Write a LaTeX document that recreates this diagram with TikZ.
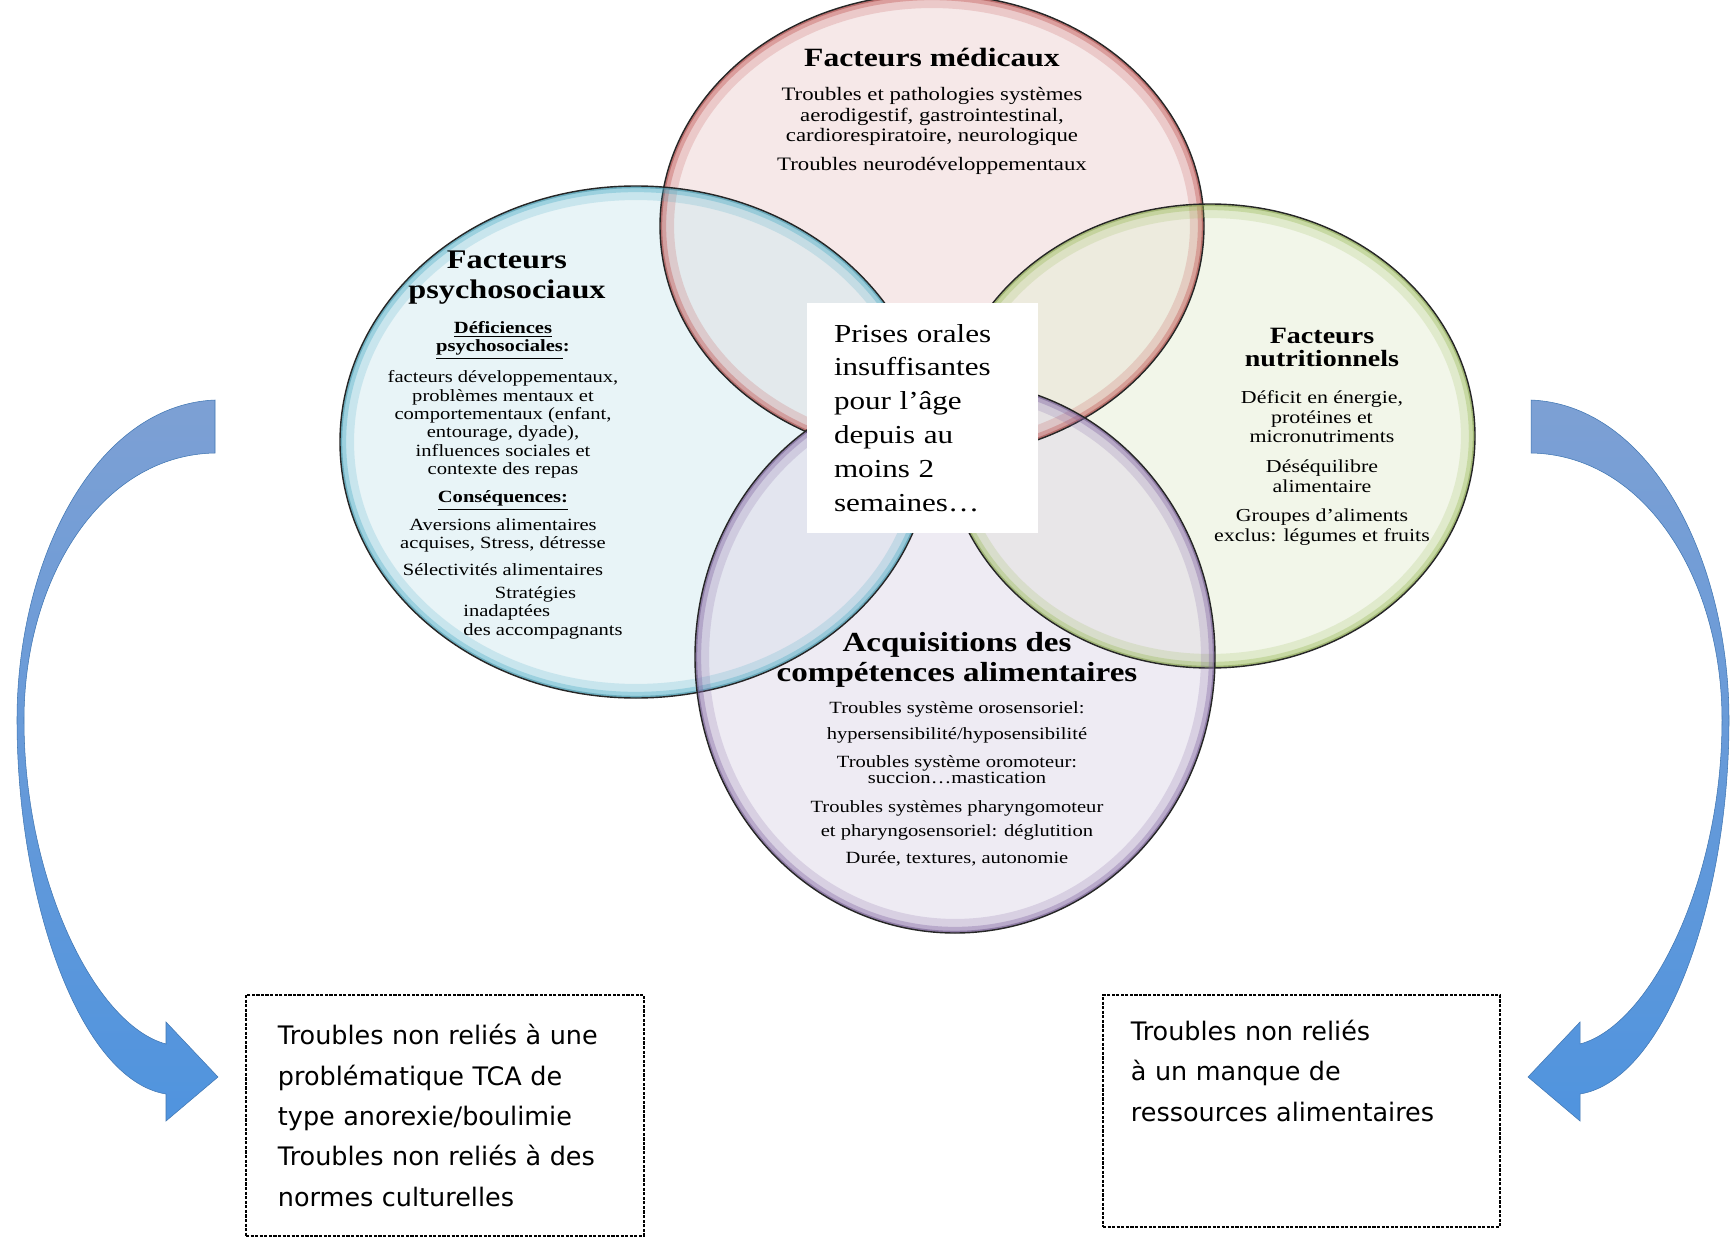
\documentclass[tikz,border=0pt]{standalone}
\usepackage{fontspec}
\setmainfont{Liberation Serif}[FakeStretch=1.2]
\newfontfamily\boxfont{DejaVu Sans}
\usetikzlibrary{positioning}

\definecolor{medred}{RGB}{192,80,77}
\definecolor{psyblue}{RGB}{75,172,198}
\definecolor{nutgreen}{RGB}{155,187,89}
\definecolor{acqpurple}{RGB}{128,100,162}
\definecolor{arrowtop}{RGB}{125,160,212}
\definecolor{arrowbot}{RGB}{80,148,222}

\tikzset{
	titre/.style={align=center, inner sep=0pt, anchor=north},
	corps/.style={align=center, inner sep=0pt, anchor=north},
	cadre/.style={draw=black, line width=1.1pt, dash pattern=on 1.8pt off 0.8pt, anchor=north west, align=left, inner ysep=0pt, font=\boxfont\fontsize{14.5}{23}\selectfont},
	fleche/.style={top color=arrowtop, bottom color=arrowbot, draw=arrowbot!80!black, line width=0.3pt}
}

\newcommand\bigarrow{(215,400) .. controls (95,405) and (17,560) .. (17,720)
		.. controls (17,900) and (80,1080) .. (166,1094)
		-- (166,1121) -- (218,1077) -- (166,1022) -- (166,1044)
		.. controls (95,1025) and (24,880) .. (24,720)
		.. controls (24,580) and (100,455) .. (215,453) -- cycle}

\begin{document}
\begin{tikzpicture}[x=0.02cm, y=-0.02cm]
		\useasboundingbox[fill=white] (0,0) rectangle (1732,1237);
		\coordinate (med) at (932,226);
		\coordinate (psy) at (636,442);
		\coordinate (nut) at (1210,436);
		\coordinate (acq) at (955,657);
		%
		\foreach \c/\col/\rx/\ry in {med/medred/272/232, psy/psyblue/296/256, nut/nutgreen/265/232, acq/acqpurple/260/276}{
			\fill[\col!25, fill opacity=.5] (\c) ellipse [x radius=\rx, y radius=\ry];
		}
		\foreach \c/\col/\rx/\ry in {med/medred/272/232, psy/psyblue/296/256, nut/nutgreen/265/232, acq/acqpurple/260/276}{
			\begin{scope}
				\clip (\c) ellipse [x radius=\rx, y radius=\ry];
				\draw[\col, line width=16pt, opacity=.2] (\c) ellipse [x radius=\rx, y radius=\ry];
				\draw[\col, line width=7pt, opacity=.35] (\c) ellipse [x radius=\rx, y radius=\ry];
				\draw[\col!80!black, line width=2.5pt, opacity=.5] (\c) ellipse [x radius=\rx, y radius=\ry];
			\end{scope}
			\draw[black!85, line width=.8pt] (\c) ellipse [x radius=\rx, y radius=\ry];
		}
		%
		\node (medtitre)[titre, font=\fontsize{15}{17}\selectfont\bfseries] at (932,48){Facteurs médicaux};
		\node (medcorps)[corps, font=\fontsize{10.8}{11.7}\selectfont] at (932,87){Troubles et pathologies systèmes\\aerodigestif, gastrointestinal,\\cardiorespiratoire, neurologique\\[4.8pt]Troubles neurodéveloppementaux};
		%
		\node (psytitre)[titre, font=\fontsize{15.3}{17}\selectfont\bfseries] at (507,251){Facteurs\\psychosociaux};
		\node (psycorps)[corps, font=\fontsize{9.75}{10.5}\selectfont] at (503,321){{\bfseries\underline{Déficiences}}\\{\bfseries\underline{psychosociales}:}\\[5.5pt]facteurs développementaux,\\problèmes mentaux et\\comportementaux (enfant,\\entourage, dyade),\\influences sociales et\\contexte des repas\\[5.5pt]{\bfseries\underline{Conséquences:}}\\[3.7pt]Aversions alimentaires\\acquises, Stress, détresse\\[5pt]Sélectivités alimentaires};
		\node (psystrat)[anchor=north west, align=left, inner sep=0pt, font=\fontsize{9.75}{10.5}\selectfont] at (463,586){\hspace*{18pt}Stratégies\\inadaptées\\des accompagnants};
		%
		\node (nuttitre)[titre, font=\fontsize{13.3}{13.1}\selectfont\bfseries] at (1322,328){Facteurs\\nutritionnels};
		\node (nutcorps)[corps, font=\fontsize{10.4}{11.3}\selectfont] at (1322,390){Déficit en énergie,\\protéines et\\micronutriments\\[5.5pt]Déséquilibre\\alimentaire\\[5.5pt]Groupes d'aliments\\exclus: légumes et fruits};
		%
		\node (acqtitre)[titre, font=\fontsize{15.7}{17}\selectfont\bfseries] at (957,632){Acquisitions des\\compétences alimentaires};
		\node (acqcorps)[corps, font=\fontsize{9.75}{9.3}\selectfont] at (957,701){Troubles système orosensoriel:\\[5.5pt]hypersensibilité/hyposensibilité\\[6.5pt]Troubles système oromoteur:\\succion…mastication\\[7pt]Troubles systèmes pharyngomoteur\\[4.5pt]et pharyngosensoriel: déglutition\\[6pt]Durée, textures, autonomie};
		%
		\node (prises)[fill=white, minimum width=4.62cm, minimum height=4.6cm, text width=3.54cm, inner xsep=0.54cm, align=left, font=\fontsize{14.75}{19.3}\selectfont] at (922.5,418){Prises orales\\insuffisantes\\pour l’âge\\depuis au\\moins 2\\semaines…};
		%
		\path[fleche] \bigarrow;
		\begin{scope}[shift={(1746,0)}, xscale=-1]
			\path[fleche] \bigarrow;
		\end{scope}
		%
		\node (tca)[cadre, minimum width=7.96cm, minimum height=4.82cm, text width=6.68cm, inner xsep=0.64cm] at (245,994){Troubles non reliés à une\\problématique TCA de\\type anorexie/boulimie\\Troubles non reliés à des\\normes culturelles};
		\node (ressources)[cadre, minimum width=7.94cm, minimum height=4.64cm, text width=6.82cm, inner xsep=0.56cm] at (1102,994){Troubles non reliés\\à un manque de\\ressources alimentaires\\ \mbox{}\\ \mbox{}};
	\end{tikzpicture}
\end{document}
